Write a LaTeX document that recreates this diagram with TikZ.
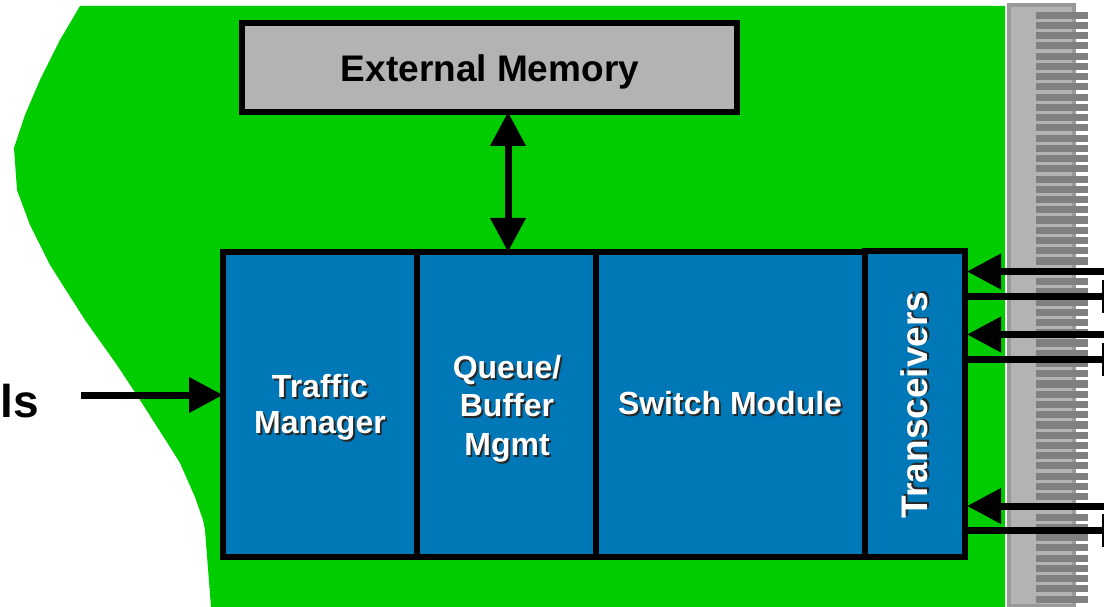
\documentclass[tikz,border=0pt]{standalone}
\usepackage{fontspec}
\setmainfont{Liberation Sans}
\usetikzlibrary{arrows.meta,calc}
\definecolor{boardgreen}{RGB}{0,204,0}
\definecolor{modblue}{RGB}{0,119,182}
\definecolor{memgray}{RGB}{179,179,179}
\definecolor{edgegray}{RGB}{153,153,153}
\definecolor{pingray}{RGB}{128,128,128}
\newcommand{\shtext}[1]{\leavevmode\rlap{\kern1.8pt\raisebox{-1.8pt}{\textcolor{black!85}{#1}}}#1}
\tikzset{
  x=1pt,y=-1pt,
  block/.style={draw=black,line width=5.5pt,fill=modblue,inner sep=0pt,outer sep=0pt,anchor=north west},
  blocktext/.style={font=\bfseries\fontsize{32}{36}\selectfont,text=white,align=center,inner sep=0pt},
  membox/.style={draw=black,line width=5.5pt,fill=memgray,inner sep=0pt,outer sep=0pt,anchor=north west,minimum width=495pt,minimum height=89pt},
  bus/.style={line width=7pt,draw=black},
  oneway/.style={bus,-{Triangle[length=34pt,width=34pt]}},
  twoway/.style={bus,{Triangle[length=34pt,width=34pt]}-{Triangle[length=34pt,width=34pt]}},
  stub/.style={line width=2.5pt,draw=black},
  pin/.style={fill=pingray,draw=none},
}
\begin{document}
\begin{tikzpicture}
\useasboundingbox (0,0) rectangle (1104,607);
% board
\fill[boardgreen] (80,6) -- (1005,6) -- (1005,607) -- (211,607) -- (205,530) -- (203,520) -- (195,497)
  -- (180,463) -- (170,447) -- (140,400) -- (117,365) -- (85,320) -- (50,265) -- (30,225)
  -- (17,190) -- (14,148) -- (25,115) -- (40,80) -- (60,40) -- cycle;
% edge connector
\fill[edgegray] (1007,3) rectangle (1076,607);
\fill[memgray] (1011,7) rectangle (1072,604);
\foreach \i in {0,...,57} \fill[pin] (1036,{11.6+10.245*\i}) rectangle (1088,{18.7+10.245*\i});
% blocks
\node[block,minimum width=194pt,minimum height=305pt] (tm) at (223,252) {};
\node[block,minimum width=179pt,minimum height=305pt] (qb) at (417,252) {};
\node[block,minimum width=269pt,minimum height=305pt] (sw) at (596,252) {};
\node[block,minimum width=100pt,minimum height=306pt] (tr) at (865,251) {};
\node[blocktext] (tmt) at (320,408) {\shtext{Traffic}\\\shtext{Manager}};
\node[blocktext,font=\bfseries\fontsize{32}{38.5}\selectfont] (qbt) at (507,409.5) {\shtext{Queue/}\\\shtext{Buffer}\\\shtext{Mgmt}};
\node[blocktext] (swt) at (730,404) {\shtext{Switch Module}};
\node[blocktext,font=\bfseries\fontsize{37}{37}\selectfont,rotate=90] (trt) at (915,405) {\shtext{Transceivers}};
\node[membox] (mem) at (242,23) {};
\node[font=\bfseries\fontsize{37}{40}\selectfont,inner sep=0pt] (memt) at (490,71.5) {External Memory};
\node[font=\bfseries\fontsize{46}{50}\selectfont,anchor=west,inner sep=0pt] (ls) at (0.5,401) {ls};
% free ends
\coordinate (inL) at (81,395);
\coordinate (inA) at (1104,271.5);
\coordinate (inB) at (1104,334.5);
\coordinate (inC) at (1104,506);
\coordinate (outA) at (1103,296.5);
\coordinate (outB) at (1103,359.5);
\coordinate (outC) at (1103,530.5);
% connectors
\draw[twoway] ([xshift=1.5pt]qb.north) -- ([xshift=1.5pt]qb.north |- mem.south);
\draw[oneway] (inL) -- (inL -| tm.west);
\draw[oneway] (inA) -- ([xshift=2pt]inA -| tr.east);
\draw[oneway] (inB) -- ([xshift=2pt]inB -| tr.east);
\draw[oneway] (inC) -- ([xshift=2pt]inC -| tr.east);
\draw[bus] (outA) -- (outA -| tr.east);
\draw[bus] (outB) -- (outB -| tr.east);
\draw[bus] (outC) -- (outC -| tr.east);
\draw[stub] ($(outA)+(0,-16.5)$) -- ($(outA)+(0,16.5)$);
\draw[stub] ($(outB)+(0,-16.5)$) -- ($(outB)+(0,16.5)$);
\draw[stub] ($(outC)+(0,-16.5)$) -- ($(outC)+(0,16.5)$);
\end{tikzpicture}
\end{document}
